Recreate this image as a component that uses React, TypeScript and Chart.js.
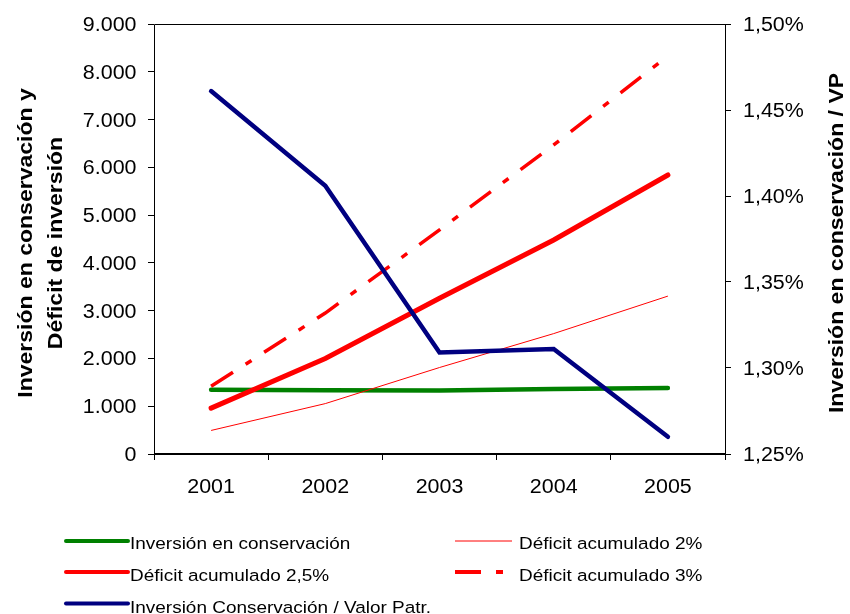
import React, { useEffect, useRef } from 'react';
import { Chart, registerables } from 'chart.js';

Chart.register(...registerables);

// Years on the category axis
const years = ['2001', '2002', '2003', '2004', '2005'];

// Left axis series (thousands)
const inversionConservacion = [1347, 1335, 1327, 1358, 1380];
const deficit2 = [493, 1055, 1810, 2520, 3305];
const deficit25 = [960, 2000, 3260, 4480, 5840];
const deficit3 = [1416, 2950, 4690, 6470, 8330];

// Right axis series (percent)
const inversionSobreVP = [1.461, 1.406, 1.309, 1.311, 1.26];

// Axis ranges
const leftMin = 0;
const leftMax = 9000;
const leftStep = 1000;
const rightMin = 1.25;
const rightMax = 1.5;
const rightStep = 0.05;

const leftTitle = ['Inversión en conservación y', 'Déficit de inversión'];
const rightTitle = 'Inversión en conservación / VP';

const FONT = '"Liberation Sans", Arial, Helvetica, sans-serif';

const fmtThousands = (v: number | string) =>
  Math.round(Number(v)).toString().replace(/\B(?=(\d{3})+(?!\d))/g, '.');

const fmtPercent = (v: number | string) => Number(v).toFixed(2).replace('.', ',') + '%';

// Text drawn with a horizontal widening factor (along the reading direction)
function wideText(
  ctx: CanvasRenderingContext2D,
  text: string,
  x: number,
  y: number,
  font: string,
  sx: number,
  align: CanvasTextAlign,
  rotate = 0,
) {
  ctx.save();
  ctx.font = font;
  ctx.fillStyle = '#000';
  ctx.textAlign = align;
  ctx.textBaseline = 'alphabetic';
  ctx.translate(x, y);
  if (rotate) ctx.rotate(rotate);
  ctx.scale(sx, 1);
  ctx.fillText(text, 0, 0);
  ctx.restore();
}

const TICK_FONT = `19.5px ${FONT}`;
const TICK_SX = 1.1;
const LEGEND_FONT = `16.8px ${FONT}`;
const LEGEND_SX = 1.13;
const TITLE_FONT = `bold 19.5px ${FONT}`;
const TITLE_SX = 1.18;

// Plot frame: thin top/left/right lines, heavier bottom axis line
const framePlugin = {
  id: 'plotFrame',
  beforeDatasetsDraw(chart: any) {
    const { ctx } = chart;
    const { left, right, top, bottom } = chart.chartArea;
    ctx.save();
    ctx.strokeStyle = '#000';
    ctx.lineWidth = 1;
    ctx.beginPath();
    ctx.moveTo(left + 0.5, bottom);
    ctx.lineTo(left + 0.5, top + 0.5);
    ctx.lineTo(right + 0.5, top + 0.5);
    ctx.lineTo(right + 0.5, bottom);
    ctx.stroke();
    ctx.lineWidth = 2;
    ctx.beginPath();
    ctx.moveTo(left, bottom);
    ctx.lineTo(right + 1, bottom);
    ctx.stroke();
    ctx.restore();
  },
};

// Tick labels taken from the chart's own scales
const tickLabelPlugin = {
  id: 'tickLabels',
  afterDraw(chart: any) {
    const { ctx } = chart;
    const { left, right, bottom } = chart.chartArea;
    const xs = chart.scales.x;
    xs.ticks.forEach((t: any, i: number) => {
      wideText(ctx, String(t.label), xs.getPixelForTick(i), bottom + 39, TICK_FONT, TICK_SX, 'center');
    });
    const yl = chart.scales.y;
    yl.ticks.forEach((t: any, i: number) => {
      wideText(ctx, String(t.label), left - 17.5, yl.getPixelForTick(i) + 7, TICK_FONT, TICK_SX, 'right');
    });
    const yr = chart.scales.y1;
    yr.ticks.forEach((t: any, i: number) => {
      wideText(ctx, String(t.label), right + 18, yr.getPixelForTick(i) + 7, TICK_FONT, TICK_SX, 'left');
    });
  },
};

// Rotated axis titles, both reading bottom-to-top
const titlesPlugin = {
  id: 'axisTitles',
  afterDraw(chart: any) {
    const { ctx } = chart;
    const cy = (chart.chartArea.top + chart.chartArea.bottom) / 2 + 4;
    const leftBaselines = [31.5, 61.5];
    leftTitle.forEach((line, i) => {
      wideText(ctx, line, leftBaselines[i], cy, TITLE_FONT, TITLE_SX, 'center', -Math.PI / 2);
    });
    wideText(ctx, rightTitle, 843, cy, TITLE_FONT, TITLE_SX, 'center', -Math.PI / 2);
  },
};

// Two-column legend under the plot
const legendPlugin = {
  id: 'gridLegend',
  afterDraw(chart: any) {
    const { ctx } = chart;
    const sampleStart = [66, 455];
    const sampleEnd = [128, 512];
    const textX = [130, 519];
    const sampleY = [541, 572, 603.5];
    const baselineY = [549, 581, 613];
    chart.data.datasets.forEach((ds: any, i: number) => {
      const col = i % 2;
      const row = Math.floor(i / 2);
      ctx.save();
      ctx.strokeStyle = ds.borderColor;
      const dashed = Array.isArray(ds.borderDash) && ds.borderDash.length > 0;
      ctx.lineWidth = ds.borderWidth > 1 ? 4 : 1;
      ctx.lineCap = dashed || ds.borderWidth <= 1 ? 'butt' : 'round';
      ctx.setLineDash(dashed ? ds.borderDash : []);
      ctx.beginPath();
      ctx.moveTo(sampleStart[col], sampleY[row]);
      ctx.lineTo(sampleEnd[col], sampleY[row]);
      ctx.stroke();
      ctx.restore();
      wideText(ctx, ds.label, textX[col], baselineY[row], LEGEND_FONT, LEGEND_SX, 'left');
    });
  },
};

export default function App() {
  const ref = useRef<HTMLCanvasElement>(null);

  useEffect(() => {
    const canvas = ref.current;
    if (!canvas) return;
    const hiddenTicks = { display: false };
    const chart = new Chart(canvas, {
      type: 'line',
      data: {
        labels: years,
        datasets: [
          {
            label: 'Inversión en conservación',
            data: inversionConservacion,
            borderColor: '#008000',
            borderWidth: 4.5,
            borderCapStyle: 'round',
            yAxisID: 'y',
            order: 4,
          },
          {
            label: 'Déficit acumulado 2%',
            data: deficit2,
            borderColor: '#FF0000',
            borderWidth: 1,
            yAxisID: 'y',
            order: 2,
          },
          {
            label: 'Déficit acumulado 2,5%',
            data: deficit25,
            borderColor: '#FF0000',
            borderWidth: 5,
            borderCapStyle: 'round',
            yAxisID: 'y',
            order: 1,
          },
          {
            label: 'Déficit acumulado 3%',
            data: deficit3,
            borderColor: '#FF0000',
            borderWidth: 3.5,
            borderDash: [26, 15, 7, 15],
            borderCapStyle: 'butt',
            yAxisID: 'y',
            order: 3,
          },
          {
            label: 'Inversión Conservación / Valor Patr.',
            data: inversionSobreVP,
            borderColor: '#000080',
            borderWidth: 4.5,
            borderCapStyle: 'round',
            yAxisID: 'y1',
            order: 0,
          },
        ] as any,
      },
      options: {
        responsive: false,
        animation: false,
        events: [],
        elements: {
          point: { radius: 0 },
          line: { tension: 0, borderJoinStyle: 'miter' },
        },
        layout: { padding: { top: 24, left: 0, right: 0, bottom: 0 } },
        plugins: {
          legend: { display: false },
          tooltip: { enabled: false },
        },
        scales: {
          x: {
            offset: true,
            grid: {
              offset: true,
              drawOnChartArea: false,
              drawTicks: true,
              tickLength: 6,
              color: '#000',
            },
            border: { display: false },
            ticks: hiddenTicks,
            afterFit: (s: any) => {
              s.height = 160;
            },
          },
          y: {
            position: 'left',
            min: leftMin,
            max: leftMax,
            grid: { drawOnChartArea: false, drawTicks: true, tickLength: 6, color: '#000' },
            border: { display: false },
            ticks: { ...hiddenTicks, stepSize: leftStep, callback: fmtThousands },
            afterFit: (s: any) => {
              s.width = 154;
            },
          },
          y1: {
            position: 'right',
            min: rightMin,
            max: rightMax,
            grid: { drawOnChartArea: false, drawTicks: true, tickLength: 6, color: '#000' },
            border: { display: false },
            ticks: { ...hiddenTicks, stepSize: rightStep, callback: fmtPercent },
            afterFit: (s: any) => {
              s.width = 125;
            },
          },
        },
      } as any,
      plugins: [framePlugin, tickLabelPlugin, titlesPlugin, legendPlugin],
    });
    return () => chart.destroy();
  }, []);

  return (
    <div style={{ position: 'absolute', left: 0, top: 0, width: 850, height: 614, background: '#fff' }}>
      <canvas ref={ref} width={850} height={614} style={{ display: 'block', width: '850px', height: '614px' }} />
    </div>
  );
}
